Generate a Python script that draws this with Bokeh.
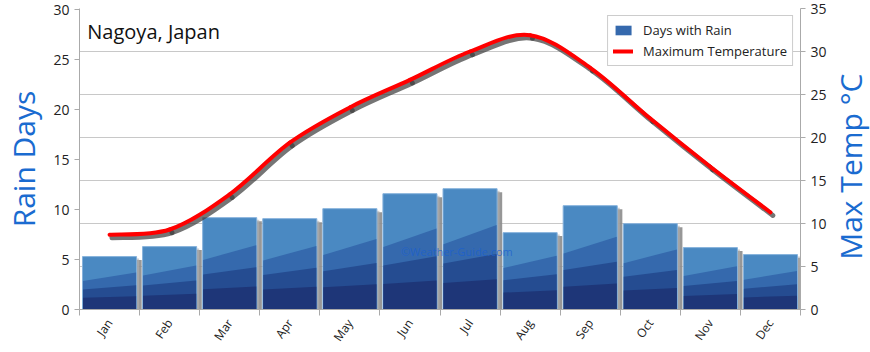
import numpy as np
from bokeh.plotting import figure
from bokeh.layouts import row
from bokeh.models import (Range1d, LinearAxis, FixedTicker, Label, Legend, LegendItem,
                          ColumnDataSource, Grid)
from bokeh.embed import file_html
from bokeh.resources import INLINE

months = ["Jan", "Feb", "Mar", "Apr", "May", "Jun", "Jul", "Aug", "Sep", "Oct", "Nov", "Dec"]
rain_days = [5.3, 6.3, 9.2, 9.1, 10.1, 11.6, 12.1, 7.7, 10.4, 8.6, 6.2, 5.5]
max_temp = [8.7, 9.3, 13.4, 19.4, 23.5, 26.7, 30.0, 31.9, 28.1, 22.2, 16.6, 11.3]
rain_ticks = [0, 5, 10, 15, 20, 25, 30]
temp_ticks = [0, 5, 10, 15, 20, 25, 30, 35]
title_text = "Nagoya, Japan"
watermark = "\u00a9Weather-Guide.com"
left_label = "Rain Days"
right_label = "Max Temp \u00b0C"

FONT = "Open Sans"
BLUE_LABEL = "#1a6bd0"

n = len(months)
xi = np.arange(n, dtype=float)
rain = np.array(rain_days)
temp = np.array(max_temp)

SIDE_W = 40
p = figure(width=870 - SIDE_W, height=352, output_backend="svg", toolbar_location=None,
           x_range=Range1d(-0.5, n - 0.5), y_range=Range1d(0, 30.15),
           min_border_left=76, min_border_right=30, min_border_top=8, min_border_bottom=41)
p.extra_y_ranges = {"temp": Range1d(0, 35)}
p.outline_line_color = None
p.background_fill_color = "white"
p.border_fill_color = "white"

# grids follow temperature axis
p.xgrid.visible = False
p.ygrid.visible = False
g = Grid(dimension=1, ticker=FixedTicker(ticks=temp_ticks), y_range_name="temp",
         grid_line_color="#c8c8c8", grid_line_width=1)
p.add_layout(g)

# Bars: shadow
w = 0.9
shadow_dx = 0.085
p.vbar(x=xi + shadow_dx, top=rain - 0.35, width=w, bottom=0,
       fill_color="#8c8c8c", line_color=None, fill_alpha=0.9)
p.vbar(x=xi + shadow_dx * 0.5, top=rain - 0.2, width=w, bottom=0,
       fill_color="#b0b0b0", line_color=None, fill_alpha=0.6)

# Bars: full bar (top light colour)
full = p.vbar(x=xi, top=rain, width=w, bottom=0, fill_color="#4a89c2",
              line_color="#86b2dc", line_width=1)

L = xi - w / 2
R = xi + w / 2
bands = [
    (0.54, 0.70, "#3569ad"),
    (0.38, 0.46, "#254c91"),
    (0.22, 0.25, "#1e3678"),
]
band_rs = []
for fl, fr, col in bands:
    xs = [[l, r, r, l] for l, r in zip(L + 0.008, R - 0.008)]
    ys = [[0, 0, fr * h, fl * h] for h in rain]
    band_rs.append(p.patches(xs=xs, ys=ys, fill_color=col, line_color=None))

# Temperature smooth line (cubic bezier segments through data points)
px = np.concatenate([[xi[0]], xi, [xi[-1]]])
py = np.concatenate([[temp[0]], temp, [temp[-1]]])
seg = dict(x0=[], y0=[], x1=[], y1=[], cx0=[], cy0=[], cx1=[], cy1=[])
for i in range(n - 1):
    x_m1, x_0, x_1, x_2 = px[i], px[i + 1], px[i + 2], px[i + 3]
    y_m1, y_0, y_1, y_2 = py[i], py[i + 1], py[i + 2], py[i + 3]
    seg["x0"].append(x_0); seg["y0"].append(y_0)
    seg["x1"].append(x_1); seg["y1"].append(y_1)
    seg["cx0"].append(x_0 + (x_1 - x_m1) / 6); seg["cy0"].append(y_0 + (y_1 - y_m1) / 6)
    seg["cx1"].append(x_1 - (x_2 - x_0) / 6); seg["cy1"].append(y_1 - (y_2 - y_0) / 6)
seg = {k: np.array(v) for k, v in seg.items()}

# shadow of line (offset down-right)
sdx, sdy = 0.04, -0.36
shadow_src = ColumnDataSource({
    "x0": seg["x0"] + sdx, "y0": seg["y0"] + sdy, "x1": seg["x1"] + sdx, "y1": seg["y1"] + sdy,
    "cx0": seg["cx0"] + sdx, "cy0": seg["cy0"] + sdy, "cx1": seg["cx1"] + sdx, "cy1": seg["cy1"] + sdy})
p.bezier(x0="x0", y0="y0", x1="x1", y1="y1", cx0="cx0", cy0="cy0", cx1="cx1", cy1="cy1",
         source=shadow_src, line_color="#3a3a3a", line_width=5, line_alpha=0.7,
         line_cap="round", y_range_name="temp")
line_src = ColumnDataSource(seg)
line_r = p.bezier(x0="x0", y0="y0", x1="x1", y1="y1", cx0="cx0", cy0="cy0", cx1="cx1", cy1="cy1",
                  source=line_src, line_color="#ff0000", line_width=4, line_cap="round",
                  y_range_name="temp")

# Axes
xa = p.xaxis[0]
xa.ticker = FixedTicker(ticks=list(xi), minor_ticks=list(np.arange(-0.5, n, 1.0)))
xa.major_label_overrides = {i: m for i, m in enumerate(months)}
xa.major_label_orientation = 0.96
xa.major_tick_out = 0
xa.major_tick_in = 0
xa.minor_tick_out = 6
xa.minor_tick_in = 0
xa.minor_tick_line_color = "#aaaaaa"
xa.axis_line_color = "#aaaaaa"
xa.major_label_text_font = FONT
xa.major_label_text_font_size = "12px"
xa.major_label_text_color = "#222222"

ya = p.yaxis[0]
ya.ticker = FixedTicker(ticks=rain_ticks)
ya.axis_label = left_label
ya.axis_label_text_font = FONT
ya.axis_label_text_font_size = "30px"
ya.axis_label_text_font_style = "normal"
ya.axis_label_text_color = BLUE_LABEL
ya.axis_label_standoff = 6
ya.major_label_text_font = FONT
ya.major_label_text_font_size = "14px"
ya.major_label_text_color = "#222222"
ya.axis_line_color = "#aaaaaa"
ya.major_tick_line_color = "#aaaaaa"
ya.major_tick_out = 5
ya.major_tick_in = 0
ya.minor_tick_line_color = None

ra = LinearAxis(y_range_name="temp", ticker=FixedTicker(ticks=temp_ticks))
ra.major_label_text_font = FONT
ra.major_label_text_font_size = "14px"
ra.major_label_text_color = "#222222"
ra.axis_line_color = "#aaaaaa"
ra.major_tick_line_color = "#aaaaaa"
ra.major_tick_out = 5
ra.major_tick_in = 0
ra.minor_tick_line_color = None
p.add_layout(ra, "right")

# Title inside plot
p.add_layout(Label(x=-0.37, y=27.8, text=title_text, text_font=FONT, text_font_size="20px",
                   text_color="#111111", text_baseline="middle", text_align="left"))

# Watermark
p.add_layout(Label(x=5.78, y=5.85, text=watermark, text_font=FONT, text_font_size="11px",
                   text_color="#1a5fd0", text_alpha=0.75, text_baseline="middle",
                   text_align="center"))

legend = Legend(items=[LegendItem(label="Days with Rain", renderers=[band_rs[0]]),
                       LegendItem(label="Maximum Temperature", renderers=[line_r])],
                location="top_right")
legend.label_text_font = FONT
legend.label_text_font_size = "13px"
legend.label_text_color = "#222222"
legend.border_line_color = "#999999"
legend.border_line_width = 1
legend.background_fill_color = "white"
legend.background_fill_alpha = 1
legend.glyph_width = 20
legend.glyph_height = 12
legend.label_height = 14
legend.spacing = 3
legend.padding = 5
legend.margin = 7
legend.label_standoff = 10
p.add_layout(legend)

# Side strip holding the right-hand axis title (reads bottom-to-top)
side = figure(width=SIDE_W, height=352, output_backend="svg", toolbar_location=None,
              x_range=Range1d(0, SIDE_W), y_range=Range1d(0, 352),
              min_border=0, outline_line_color=None)
side.axis.visible = False
side.grid.visible = False
side.border_fill_color = "white"
side.add_layout(Label(x=SIDE_W / 2, y=352 - 185, text=right_label, text_font=FONT,
                      text_font_size="30px", text_color=BLUE_LABEL, angle=np.pi / 2,
                      text_align="center", text_baseline="middle"))

layout = row(p, side, spacing=0)
open("out.html", "w").write(file_html(layout, INLINE))
